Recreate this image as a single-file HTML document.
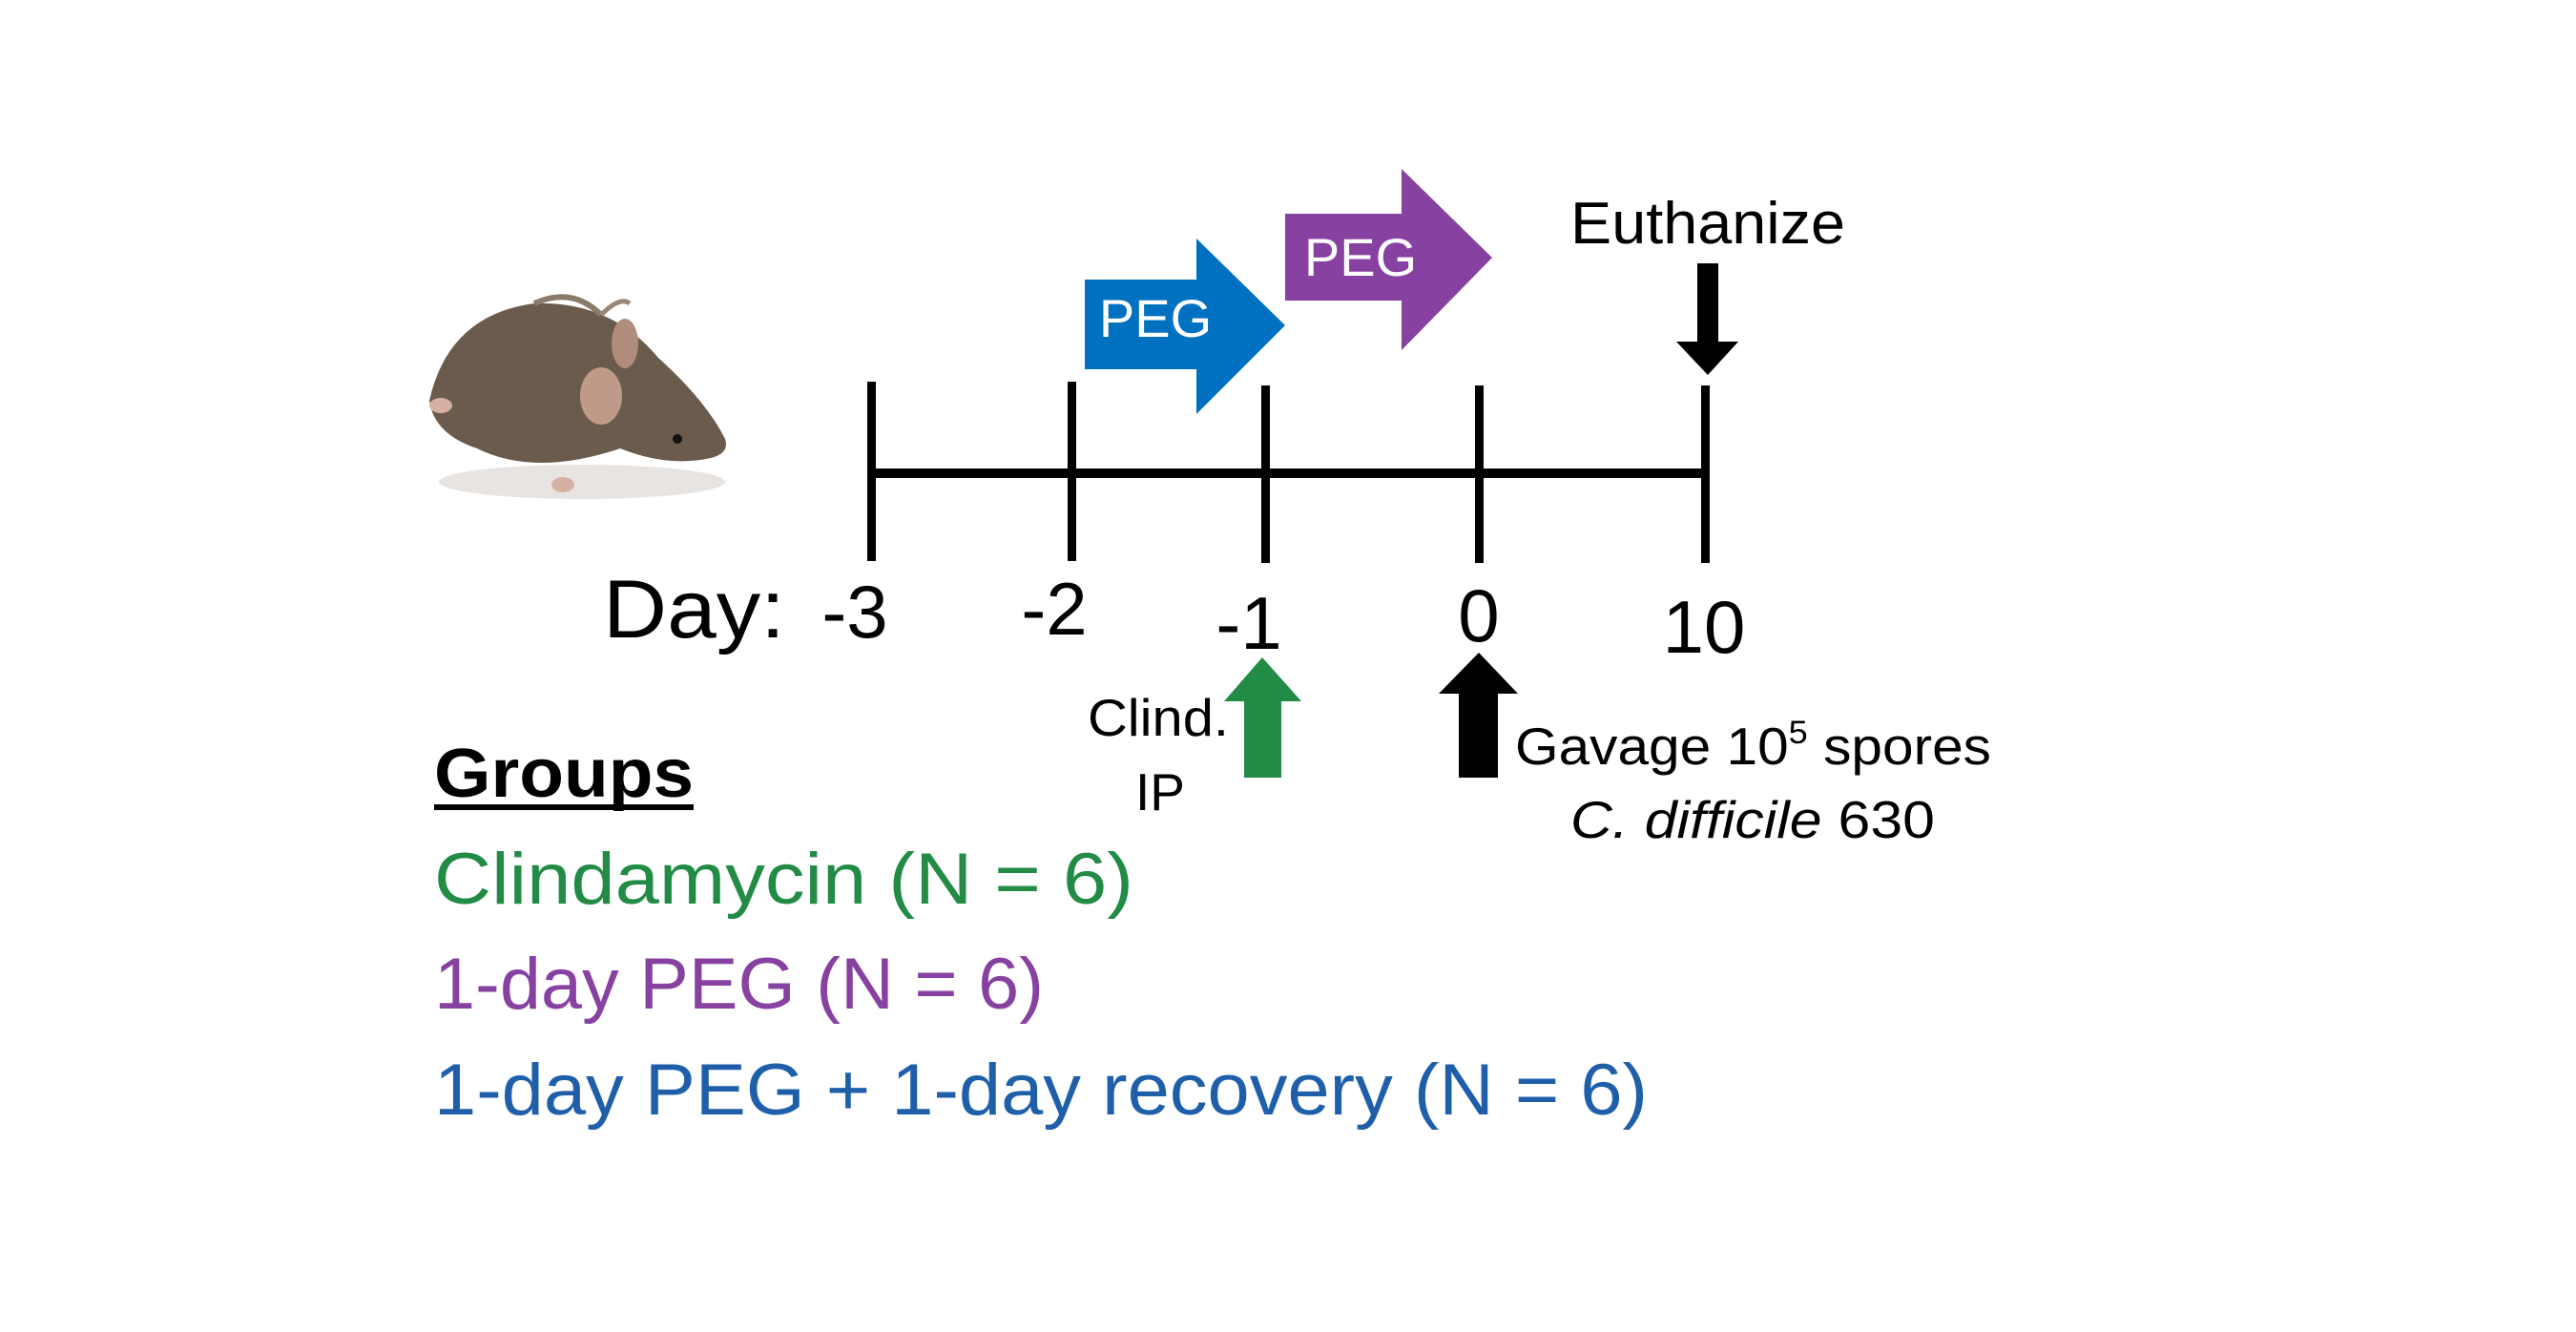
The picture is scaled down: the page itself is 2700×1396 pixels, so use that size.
<!DOCTYPE html>
<html><head><meta charset="utf-8"><style>
html,body{margin:0;padding:0;background:#fff;}
svg{display:block;font-family:"Liberation Sans",sans-serif;}
</style></head><body>
<svg width="2700" height="1396" viewBox="0 0 2700 1396">
<g>
  <ellipse cx="610" cy="505" rx="150" ry="18" fill="#e8e4e2"/>
  <path d="M450 420 Q470 330 560 318 Q640 315 690 375 Q740 420 760 460 Q765 475 745 480 Q700 490 650 470 Q560 500 500 470 Q455 455 450 420 Z" fill="#6b5b4c"/>
  <path d="M560 318 Q600 300 630 330" fill="none" stroke="#8a7a6a" stroke-width="6"/>
  <path d="M630 330 Q650 310 660 318" fill="none" stroke="#9a8778" stroke-width="5"/>
  <ellipse cx="655" cy="360" rx="14" ry="26" fill="#b08c7c"/>
  <ellipse cx="630" cy="415" rx="22" ry="30" fill="#c09a88"/>
  <circle cx="710" cy="460" r="5" fill="#111"/>
  <ellipse cx="462" cy="425" rx="12" ry="8" fill="#d7b0a4"/>
  <ellipse cx="590" cy="508" rx="12" ry="8" fill="#d7b0a4"/>
</g>
<g>
  <rect x="913" y="491" width="878" height="10" fill="#000"/>
  <rect x="909" y="400" width="9" height="188" fill="#000"/>
  <rect x="1119" y="400" width="9" height="188" fill="#000"/>
  <rect x="1322" y="404" width="9" height="186" fill="#000"/>
  <rect x="1546" y="404" width="9" height="186" fill="#000"/>
  <rect x="1783" y="404" width="9" height="186" fill="#000"/>
</g>
<g font-size="86" fill="#000">
  <text x="632" y="668" textLength="191" lengthAdjust="spacingAndGlyphs">Day:</text>
  <text x="896" y="668" text-anchor="middle" font-size="78">-3</text>
  <text x="1105" y="665" text-anchor="middle" font-size="78">-2</text>
  <text x="1309" y="680" text-anchor="middle" font-size="78">-1</text>
  <text x="1550" y="672" text-anchor="middle" font-size="78">0</text>
  <text x="1786" y="684" text-anchor="middle" font-size="78">10</text>
</g>
<g>
  <polygon points="1137,293 1254,293 1254,250 1347,341 1254,434 1254,387 1137,387" fill="#0070c0"/>
  <text x="1211" y="353" text-anchor="middle" font-size="56" fill="#fff">PEG</text>
</g>
<g>
  <polygon points="1347,224 1469,224 1469,177 1564,270 1469,367 1469,315 1347,315" fill="#8741a0"/>
  <text x="1426" y="289" text-anchor="middle" font-size="56" fill="#fff">PEG</text>
</g>
<text x="1646" y="255" font-size="62" textLength="288" lengthAdjust="spacingAndGlyphs">Euthanize</text>
<polygon points="1779,276 1801,276 1801,358 1822,358 1790,393 1757,358 1779,358" fill="#000"/>
<polygon points="1323,689 1364,735 1343,735 1343,815 1304,815 1304,735 1283,735" fill="#228b45"/>
<text x="1140" y="771" font-size="55" textLength="148" lengthAdjust="spacingAndGlyphs">Clind.</text>
<text x="1216" y="849" font-size="55" text-anchor="middle">IP</text>
<polygon points="1550,684 1591,727 1570,727 1570,815 1529,815 1529,727 1508,727" fill="#000"/>
<text x="1588" y="801" font-size="55" textLength="499" lengthAdjust="spacingAndGlyphs">Gavage 10<tspan font-size="34" dy="-22">5</tspan><tspan dy="22"> spores</tspan></text>
<text x="1646" y="878" font-size="55" textLength="382" lengthAdjust="spacingAndGlyphs"><tspan font-style="italic">C. difficile</tspan> 630</text>
<g>
  <text x="455" y="835" font-size="72" font-weight="bold" textLength="272" lengthAdjust="spacingAndGlyphs">Groups</text>
  <rect x="455" y="843" width="272" height="6" fill="#000"/>
  <text x="455" y="947" font-size="76" fill="#228b45" textLength="733" lengthAdjust="spacingAndGlyphs">Clindamycin  (N = 6)</text>
  <text x="455" y="1057" font-size="76" fill="#8741a0" textLength="639" lengthAdjust="spacingAndGlyphs">1-day PEG (N = 6)</text>
  <text x="455" y="1168" font-size="76" fill="#1f5faa" textLength="1272" lengthAdjust="spacingAndGlyphs">1-day PEG + 1-day recovery (N = 6)</text>
</g>
</svg>
</body></html>
